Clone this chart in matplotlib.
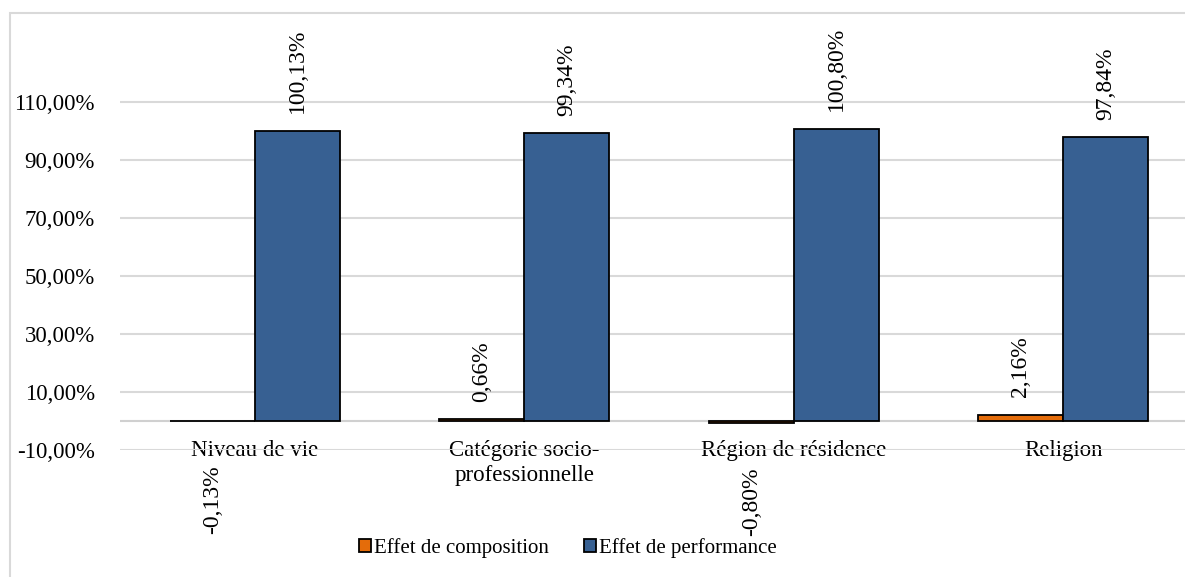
import numpy as np
import matplotlib.pyplot as plt
from matplotlib.patches import Rectangle
from matplotlib.ticker import FuncFormatter

plt.rcParams['font.family'] = ['Liberation Serif', 'DejaVu Serif']

categories = ['Niveau de vie', 'Catégorie socio-\nprofessionnelle',
              'Région de résidence', 'Religion']
composition = [-0.13, 0.66, -0.80, 2.16]
performance = [100.13, 99.34, 100.80, 97.84]
series_names = ['Effet de composition', 'Effet de performance']
yticks = [-10, 10, 30, 50, 70, 90, 110]

orange = '#E46C0A'
blue = '#376092'
fs = 16.5

fig = plt.figure(figsize=(11.85, 5.77), dpi=100)
ax = fig.add_axes([120 / 1185, 1 - 450 / 577, 1078 / 1185, 377 / 577])

# chart frame (left and top edges only show)
fig.patches.append(Rectangle((10 / 1185, -0.1), 1.2, 1.1 - 13 / 577,
                             transform=fig.transFigure, fill=False,
                             edgecolor='#D9D9D9', linewidth=1.5))

for s in ax.spines.values():
    s.set_visible(False)
ax.spines['bottom'].set_position(('data', 0))

x = np.arange(len(categories))
w = 0.316
b1 = ax.bar(x - w / 2, composition, w, color=orange, edgecolor='black',
            linewidth=1.3, label=series_names[0], zorder=3)
b2 = ax.bar(x + w / 2, performance, w, color=blue, edgecolor='black',
            linewidth=1.3, label=series_names[1], zorder=3)


def pct(v):
    return f'{v:.2f}%'.replace('.', ',')


for bars, vals in [(b1, composition), (b2, performance)]:
    for bar, v in zip(bars, vals):
        cx = bar.get_x() + bar.get_width() / 2
        if v >= 0:
            ax.annotate(pct(v), (cx, v), xytext=(0, 12.5), textcoords='offset points',
                        rotation=90, ha='center', va='bottom', fontsize=17,
                        annotation_clip=False)
        else:
            ax.annotate(pct(v), (cx, v), xytext=(0, -32), textcoords='offset points',
                        rotation=90, ha='center', va='top', fontsize=17,
                        annotation_clip=False)

ax.set_xlim(-0.5, len(categories) - 0.5)
ax.set_ylim(-10, 120)
ax.set_yticks(yticks)
ax.yaxis.set_major_formatter(FuncFormatter(lambda v, p: pct(v)))
ax.grid(axis='y', color='#D9D9D9', linewidth=1.5, zorder=0)
ax.axhline(0, color='#D0D0D0', linewidth=1.5, zorder=2)

ax.set_xticks(x)
ax.set_xticklabels(categories, fontsize=fs, linespacing=1.25)
ax.tick_params(axis='x', length=0, pad=14)
ax.tick_params(axis='y', length=0, pad=18, labelsize=fs)

fig.legend(handles=[b1, b2], loc='center', bbox_to_anchor=(568 / 1185, 1 - 548 / 577),
           ncol=2, frameon=False, fontsize=15, handlelength=0.55, handleheight=0.55,
           handletextpad=0.15, columnspacing=1.7, borderpad=0)

fig.savefig('out.png', dpi=100)
